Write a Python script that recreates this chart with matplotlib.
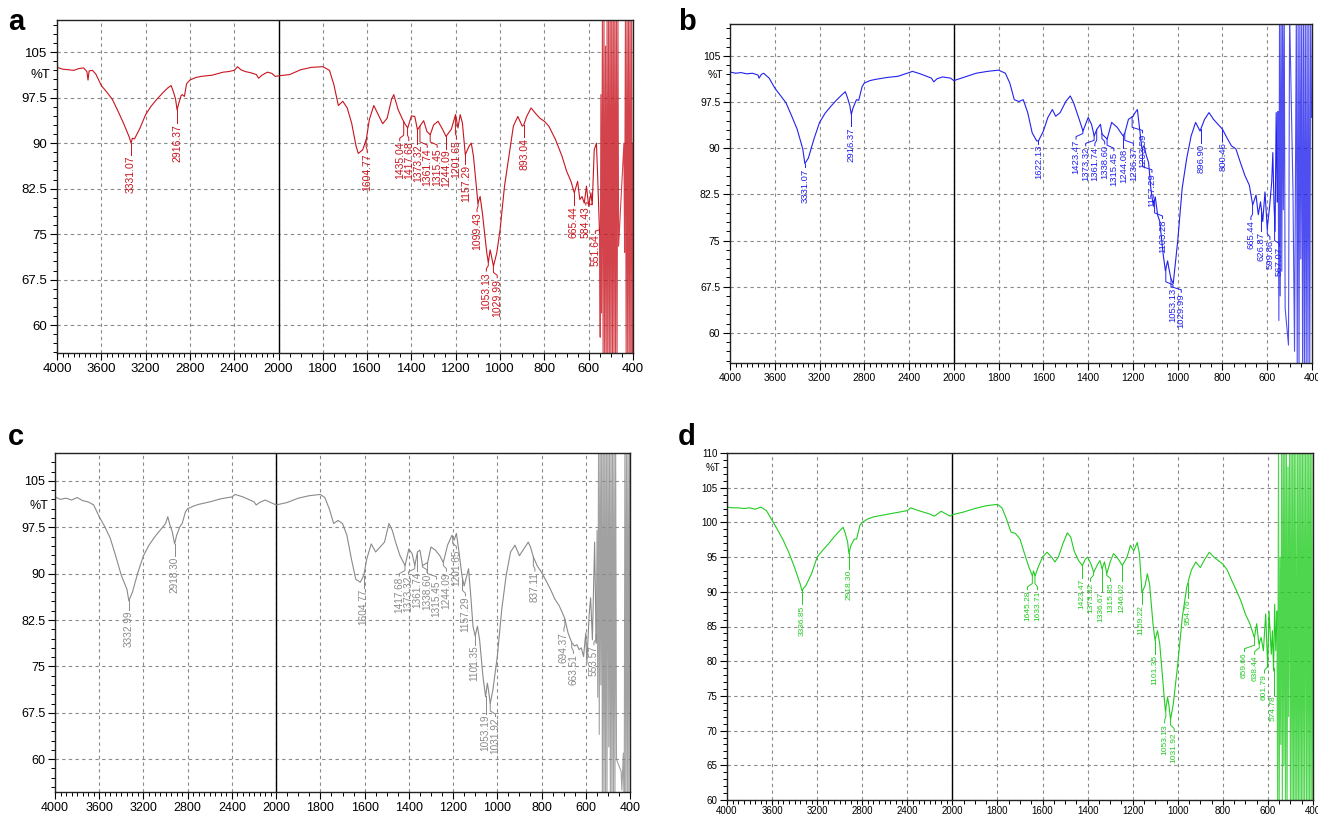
import numpy as np
import matplotlib
matplotlib.use('Agg')
import matplotlib.pyplot as plt
from matplotlib.ticker import FixedLocator
from matplotlib.transforms import blended_transform_factory

plt.rcParams['font.family'] = ['Liberation Sans', 'DejaVu Sans']

# ---- spectrum a ----
wn_a = [4000, 3950, 3900, 3850, 3800, 3760, 3730, 3720, 3710, 3680, 3650, 3600, 3550, 3500, 3450, 3400, 3350, 3331, 3320, 3300,
        3250, 3200, 3150, 3100, 3050, 3000, 2970, 2950, 2930, 2916, 2900, 2880, 2870, 2850, 2830, 2800, 2750, 2700, 2600, 2500,
        2450, 2400, 2370, 2340, 2300, 2250, 2200, 2180, 2150, 2100, 2060, 2030, 2000, 1950, 1900, 1850, 1800, 1770, 1750, 1730,
        1710, 1690, 1670, 1650, 1640, 1620, 1604, 1590, 1570, 1550, 1530, 1510, 1490, 1480, 1460, 1440, 1430, 1417, 1400, 1385,
        1373, 1360, 1345, 1330, 1315, 1300, 1280, 1260, 1244, 1220, 1201, 1190, 1180, 1170, 1157, 1140, 1130, 1120, 1100, 1090,
        1080, 1060, 1053, 1045, 1040, 1030, 1015, 1000, 980, 960, 940, 920, 900, 893, 880, 860, 840, 820, 800, 780,
        750, 720, 700, 680, 665, 650, 640, 630, 620, 610, 600, 590, 584, 575, 565, 560, 551]
t_a = [102.5, 102.2, 102.1, 102.0, 102.3, 102.4, 101.8, 100.4, 101.9, 102.0, 101.4, 99.5, 98.4, 97.2, 95.3, 93.3, 91.1, 90.0, 90.8, 90.7,
       92.5, 94.7, 96.1, 97.2, 98.2, 99.1, 99.5, 98.5, 97.3, 95.5, 96.6, 97.8, 98.0, 97.7, 99.8, 100.4, 100.8, 101.0, 101.2, 101.7,
       101.8, 102.0, 102.6, 102.1, 101.8, 101.6, 101.3, 100.7, 101.2, 101.7, 101.5, 101.0, 101.1, 101.3, 102.1, 102.5, 102.6, 102.0, 99.6, 96.2,
       96.9, 95.8, 93.3, 89.5, 88.3, 88.9, 90.6, 93.9, 96.2, 94.7, 93.2, 94.1, 97.2, 98.0, 95.5, 93.9, 93.2, 92.5, 94.5, 94.4,
       92.2, 92.9, 93.7, 91.9, 91.4, 93.0, 93.6, 92.3, 91.1, 92.3, 94.7, 92.5, 94.7, 93.3, 88.1, 89.5, 90.0, 87.8, 80.1, 81.2,
       78.5, 71.9, 70.3, 72.4, 71.6, 69.7, 71.9, 75.7, 82.9, 87.8, 92.8, 94.4, 92.8, 93.0, 94.4, 95.8, 94.9, 94.1, 93.6, 92.8,
       90.6, 87.8, 85.4, 83.7, 81.8, 83.7, 80.7, 81.2, 80.1, 82.9, 79.6, 81.8, 79.9, 88.9, 90.0, 85.0, 75.2]
tail_wn_a = [548, 545, 542, 538, 535, 531, 528, 524, 521, 517, 514, 510, 507, 503, 500, 496, 493, 489, 486, 482,
             479, 475, 472, 468, 465, 441, 438, 434, 431, 427, 424, 420, 417, 413, 410, 406, 403, 400]
tail_t_a = [58, 98, 62, 112, 54, 112, 54, 106, 54, 112, 54, 112, 54, 112, 54, 112, 54, 112, 54, 112,
            54, 112, 54, 112, 73, 90, 72, 112, 54, 112, 54, 112, 54, 112, 54, 112, 54, 90]
peaks_a = ['3331.07', '2916.37', '1604.77', '1435.04', '1417.68', '1373.32', '1361.74', '1315.45', '1244.09',
           '1201.65', '1157.29', '1099.43', '1053.13', '1029.99', '893.04', '665.44', '584.43', '551.64']
lab_x_a = [3331, 2916, 1600, 1453, 1412, 1370, 1329, 1284, 1242, 1197, 1155, 1104, 1062, 1013, 892, 667, 613, 570]
lab_top_a = [88.1, 93.3, 88.5, 90.4, 90.4, 89.9, 89.3, 89.3, 89.1, 90.7, 86.6, 78.7, 68.9, 67.8, 91.0, 79.8, 79.8, 75.1]

# ---- spectrum b ----
wn_b = [4000, 3950, 3900, 3850, 3800, 3750, 3740, 3720, 3700, 3650, 3600, 3550, 3500, 3450, 3400, 3350, 3331, 3300, 3250, 3200,
        3150, 3100, 3050, 3000, 2970, 2950, 2930, 2916, 2900, 2870, 2850, 2820, 2800, 2750, 2700, 2600, 2500, 2400, 2370, 2300,
        2200, 2180, 2150, 2100, 2030, 2000, 1950, 1900, 1850, 1800, 1770, 1750, 1730, 1710, 1690, 1670, 1650, 1630, 1622, 1600,
        1580, 1560, 1545, 1525, 1500, 1480, 1465, 1440, 1423, 1400, 1385, 1373, 1361, 1345, 1338, 1315, 1295, 1270, 1244, 1236,
        1220, 1200, 1190, 1180, 1170, 1160, 1150, 1140, 1130, 1120, 1110, 1100, 1090, 1080, 1065, 1055, 1045, 1040, 1030, 1020,
        1000, 980, 960, 940, 920, 900, 880, 860, 840, 820, 800, 780, 760, 740, 720, 700, 680, 665, 650, 640,
        630, 620, 610, 600, 590, 580, 575, 570, 565, 560, 555]
t_b = [102.4, 102.2, 102.3, 102.1, 102.2, 101.9, 101.4, 102.0, 102.2, 101.4, 99.8, 98.6, 97.4, 95.3, 93.1, 89.9, 87.5, 88.4, 91.5, 94.2,
       95.7, 96.8, 97.8, 98.7, 99.2, 98.2, 97.0, 95.5, 96.6, 97.9, 97.8, 100.0, 100.6, 101.0, 101.2, 101.5, 101.7, 102.3, 102.5, 102.1,
       101.4, 100.8, 101.3, 101.6, 101.4, 101.0, 101.6, 102.2, 102.5, 102.7, 102.2, 100.6, 97.9, 97.6, 97.9, 95.8, 92.5, 91.2, 91.2, 92.8,
       95.0, 96.3, 95.2, 95.8, 97.6, 98.5, 97.4, 94.7, 92.8, 95.0, 93.9, 92.0, 93.1, 93.9, 92.3, 91.5, 94.2, 93.4, 92.0, 92.5,
       94.7, 95.2, 95.8, 96.3, 93.1, 89.9, 90.4, 88.8, 87.7, 83.5, 80.8, 82.1, 79.2, 78.1, 72.8, 70.1, 71.7, 70.6, 68.8, 68.0,
       74.9, 83.5, 88.3, 92.0, 94.2, 92.8, 94.7, 95.8, 94.7, 93.9, 93.1, 91.7, 90.4, 89.9, 87.7, 85.6, 84.0, 80.8, 82.4, 79.2,
       81.3, 78.1, 82.9, 77.0, 80.3, 84.5, 89.3, 81.3, 76.5, 95.8, 81.3]
tail_wn_b = [552, 548, 545, 542, 538, 535, 531, 528, 524, 520, 505, 500, 485, 478, 470, 466,
             462, 458, 454, 450, 446, 442, 438, 434, 430, 426, 422, 418, 414, 410, 406, 402]
tail_t_b = [96, 62, 112, 66, 112, 70, 112, 80, 112, 64, 58, 112, 83, 57, 112, 54,
            112, 54, 112, 72, 112, 54, 112, 54, 112, 54, 112, 54, 112, 54, 112, 95]
peaks_b = ['3331.07', '2916.37', '1622.13', '1423.47', '1373.32', '1361.74', '1338.60', '1315.45', '1244.08', '1236.37',
           '1203.59', '1157.29', '1103.28', '1053.13', '1029.99', '896.90', '800.46', '665.44', '626.87', '599.86', '567.07']
lab_x_b = [3331, 2916, 1622, 1454, 1411, 1370, 1326, 1285, 1242, 1198, 1157, 1115, 1068, 1021, 984, 897, 799, 673, 630, 588, 545]
lab_top_b = [86.9, 93.6, 90.7, 91.5, 90.4, 90.4, 90.7, 89.6, 90.1, 90.4, 92.5, 86.1, 78.6, 67.4, 66.6, 90.9, 91.2, 78.4, 76.5, 75.2, 74.1]

# ---- spectrum c ----
wn_c = [4000, 3950, 3900, 3850, 3800, 3750, 3700, 3650, 3600, 3550, 3500, 3450, 3400, 3350, 3332, 3300, 3250, 3200, 3150, 3100,
        3050, 3000, 2980, 2960, 2940, 2918, 2900, 2870, 2850, 2820, 2800, 2750, 2700, 2600, 2500, 2400, 2370, 2300, 2200, 2180,
        2150, 2100, 2050, 2000, 1950, 1900, 1850, 1800, 1780, 1760, 1740, 1720, 1700, 1680, 1660, 1640, 1620, 1604, 1590, 1570,
        1550, 1530, 1510, 1490, 1475, 1460, 1440, 1417, 1400, 1385, 1373, 1361, 1350, 1338, 1315, 1300, 1280, 1260, 1244, 1225,
        1205, 1195, 1185, 1175, 1160, 1150, 1140, 1130, 1120, 1110, 1100, 1090, 1080, 1065, 1053, 1045, 1040, 1032, 1020, 1000,
        980, 960, 940, 920, 900, 880, 860, 850, 837, 820, 800, 780, 760, 740, 720, 700, 694, 680, 663, 650,
        640, 630, 620, 610, 600, 595, 585, 578, 570, 560, 553]
t_c = [102.4, 102.0, 102.2, 101.9, 102.3, 101.8, 101.6, 101.1, 99.2, 97.6, 95.7, 92.8, 89.7, 87.5, 85.6, 87.0, 90.2, 92.9, 94.6, 95.9,
       97.0, 98.1, 99.2, 97.8, 96.8, 94.8, 96.2, 97.6, 98.1, 100.0, 100.5, 100.9, 101.2, 101.6, 102.1, 102.4, 102.8, 102.4, 101.6, 101.1,
       101.5, 101.9, 101.5, 101.1, 101.5, 102.2, 102.6, 102.8, 102.3, 100.5, 98.1, 98.6, 98.1, 96.2, 92.4, 89.1, 88.6, 89.7, 92.4, 94.8,
       93.5, 94.3, 95.1, 98.1, 97.0, 95.1, 92.9, 91.3, 94.0, 93.2, 91.3, 93.5, 93.8, 91.3, 91.8, 94.3, 93.8, 92.9, 91.8, 94.6,
       96.2, 95.4, 96.5, 94.0, 89.7, 88.0, 89.4, 90.8, 86.4, 81.5, 79.9, 81.5, 79.3, 73.4, 70.1, 72.3, 71.2, 69.0, 71.2, 76.6,
       84.2, 89.7, 93.5, 94.6, 92.9, 94.0, 95.1, 94.3, 92.7, 91.3, 90.2, 88.9, 87.5, 85.9, 84.8, 83.2, 82.6, 80.4, 78.8, 78.3,
       78.5, 77.7, 78.0, 76.6, 80.4, 75.5, 83.2, 86.1, 79.3, 95.1, 78.8]
tail_wn_c = [549, 546, 542, 539, 535, 532, 528, 525, 521, 518, 514, 511, 507, 504, 500, 496, 493, 489, 486,
             482, 479, 475, 472, 468, 465, 461, 440, 437, 430, 426, 423, 419, 416, 412, 409, 405, 402]
tail_t_c = [97, 70, 112, 64, 112, 72, 112, 54, 112, 54, 112, 54, 112, 54, 112, 62, 112, 54, 112,
            54, 112, 54, 112, 54, 112, 60, 58, 55, 61, 54, 112, 54, 112, 54, 112, 54, 112]
peaks_c = ['3332.99', '2918.30', '1604.77', '1417.68', '1373.32', '1361.74', '1338.60', '1315.45', '1244.09',
           '1201.65', '1157.29', '1101.35', '1053.19', '1031.92', '837.11', '694.37', '663.51', '553.57']
lab_x_c = [3332, 2918, 1604, 1443, 1401, 1360, 1318, 1275, 1230, 1185, 1144, 1103, 1053, 1008, 830, 699, 656, 563]
lab_top_c = [84.2, 92.9, 87.7, 89.6, 89.9, 90.4, 90.2, 89.1, 90.4, 94.0, 86.4, 78.5, 67.3, 66.9, 90.4, 80.7, 77.1, 78.5]

# ---- spectrum d ----
wn_d = [4000, 3950, 3900, 3850, 3800, 3750, 3700, 3650, 3600, 3550, 3500, 3450, 3400, 3350, 3336, 3300, 3250, 3200, 3150, 3100,
        3050, 3000, 2970, 2950, 2930, 2918, 2900, 2870, 2850, 2820, 2800, 2750, 2700, 2600, 2500, 2400, 2370, 2300, 2200, 2160,
        2100, 2020, 2000, 1950, 1900, 1850, 1800, 1780, 1760, 1740, 1720, 1700, 1680, 1660, 1645, 1640, 1633, 1620, 1600, 1580,
        1560, 1545, 1530, 1510, 1490, 1475, 1460, 1440, 1423, 1410, 1400, 1385, 1373, 1355, 1345, 1336, 1325, 1315, 1300, 1285,
        1270, 1246, 1225, 1210, 1195, 1180, 1170, 1159, 1145, 1135, 1125, 1110, 1101, 1090, 1080, 1065, 1055, 1045, 1040, 1032,
        1020, 1000, 980, 960, 940, 920, 900, 880, 860, 840, 820, 800, 780, 760, 740, 720, 700, 680, 660, 650,
        640, 630, 620, 610, 601, 595, 585, 580, 575, 570, 565, 560]
t_d = [102.2, 102.1, 102.1, 102.0, 102.1, 101.9, 102.2, 101.7, 100.3, 98.9, 97.4, 95.6, 93.5, 91.1, 90.2, 90.9, 92.6, 95.0, 96.0, 96.9,
       97.9, 98.8, 99.3, 98.4, 97.2, 95.5, 96.7, 97.6, 97.6, 99.6, 100.0, 100.5, 100.8, 101.1, 101.4, 101.7, 102.1, 101.7, 101.2, 100.9,
       101.6, 100.9, 101.1, 101.5, 102.0, 102.4, 102.6, 102.1, 100.5, 98.6, 98.4, 97.6, 95.5, 93.5, 92.3, 93.0, 92.3, 93.5, 95.0, 95.7,
       95.0, 94.3, 95.0, 96.9, 98.5, 97.9, 95.9, 94.5, 93.8, 94.7, 95.0, 94.0, 92.8, 94.0, 94.5, 93.3, 94.3, 92.6, 94.3, 95.5,
       95.0, 93.8, 95.0, 96.7, 95.9, 97.1, 95.5, 89.9, 90.9, 92.6, 91.1, 85.4, 83.0, 84.4, 82.5, 76.7, 72.8, 74.8, 73.8, 71.6,
       73.8, 79.6, 86.3, 90.7, 93.1, 94.3, 93.5, 94.7, 95.7, 95.0, 94.5, 94.0, 93.1, 91.6, 90.2, 88.7, 86.8, 85.4, 83.4, 85.4,
       82.5, 83.4, 81.5, 86.8, 79.1, 87.2, 81.0, 84.4, 78.6, 88.2, 81.5, 87.2]
tail_wn_d = [557, 553, 550, 546, 543, 539, 536, 532, 529, 525, 522, 518, 515, 511, 508, 504, 500, 497, 493, 490, 486, 483, 479,
             476, 472, 468, 465, 461, 458, 454, 451, 447, 444, 440, 437, 433, 429, 426, 422, 419, 415, 412, 408, 405, 401]
tail_t_d = [58, 112, 58, 95, 68, 112, 58, 112, 65, 112, 58, 112, 58, 108, 72, 112, 58, 112, 58, 112, 58, 112, 58,
            112, 58, 112, 58, 112, 58, 112, 58, 112, 58, 112, 58, 112, 58, 112, 58, 112, 58, 112, 58, 112, 58]
peaks_d = ['3336.85', '2918.30', '1645.28', '1633.71', '1423.47', '1373.32', '1336.67', '1315.85', '1246.02',
           '1159.22', '1101.35', '1053.13', '1031.92', '954.76', '659.66', '638.44', '601.79', '574.78']
lab_x_d = [3336, 2918, 1667, 1622, 1425, 1387, 1340, 1298, 1246, 1162, 1102, 1058, 1016, 954, 704, 659, 615, 575]
lab_top_d = [88.2, 93.3, 90.3, 90.3, 92.0, 91.5, 90.1, 91.5, 91.5, 88.2, 81.0, 71.1, 69.9, 89.1, 81.4, 81.0, 78.3, 75.2]

x_major = [4000, 3600, 3200, 2800, 2400, 2000, 1800, 1600, 1400, 1200, 1000, 800, 600, 400]
y_major_abc = [60, 67.5, 75, 82.5, 90, 97.5, 105]
y_labels_abc = ['60', '67.5', '75', '82.5', '90', '97.5', '105']
y_major_d = [60, 65, 70, 75, 80, 85, 90, 95, 100, 105, 110]
y_labels_d = [str(v) for v in y_major_d]

W, H = 1318, 817
fig = plt.figure(figsize=(W / 100, H / 100), dpi=100)


def fwd(x):
    x = np.asarray(x, dtype=float)
    return np.where(x > 2000, 2000 + (x - 2000) / 2, x)


def inv(u):
    u = np.asarray(u, dtype=float)
    return np.where(u > 2000, 2000 + (u - 2000) * 2, u)


def panel(box, letter, lpos, wn, t, twn, tt, peaks, lx, ltop, color,
          ylim, yt, ylab, ymin_step, pct, tfs, afs, xtick_len=5, xpad=2):
    l, r, top, bot = box
    ax = fig.add_axes([l / W, 1 - bot / H, (r - l) / W, (bot - top) / H])
    ax.set_xscale('function', functions=(fwd, inv))
    ax.set_xlim(4000, 400)
    ax.set_ylim(*ylim)
    ax.set_xticks(x_major)
    ax.set_xticklabels([str(v) for v in x_major])
    ax.xaxis.set_minor_locator(FixedLocator(list(range(400, 4001, 50))))
    ax.set_yticks(yt)
    ax.set_yticklabels(ylab)
    ax.yaxis.set_minor_locator(FixedLocator(list(np.arange(yt[0] - 3 * ymin_step, ylim[1], ymin_step))))
    ax.tick_params(which='major', direction='out', length=5, width=0.8, labelsize=tfs, pad=2)
    ax.tick_params(axis='x', which='major', length=xtick_len, pad=xpad)
    ax.tick_params(which='minor', direction='out', length=3, width=0.7)
    ax.grid(True, which='major', linestyle=(0, (3, 3)), color='#8a8a8a', linewidth=0.8)
    ax.set_axisbelow(True)
    for s in ax.spines.values():
        s.set_linewidth(1.0)
        s.set_color('#222222')
    ax.axvline(2000, color='black', lw=1.0)

    ax.plot(wn, t, color=color, lw=0.8)
    ax.plot([wn[-1]] + twn, [t[-1]] + tt, color=color, lw=0.8, alpha=0.8)

    xs = np.array(wn[::-1], dtype=float)
    ys = np.array(t[::-1], dtype=float)
    for s, x, y in zip(peaks, lx, ltop):
        p = float(s)
        tp = float(np.interp(p, xs, ys))
        if abs(x - p) < 4:
            ax.plot([p, p], [tp, y], color=color, lw=0.7)
        else:
            e = min(tp - 0.2, y + 0.9)
            ax.plot([x, x, p, p], [y, y + 0.4, e, tp], color=color, lw=0.7)
        ax.text(x, y - 0.15, s, rotation=90, ha='center', va='top', fontsize=afs, color=color)

    tr = blended_transform_factory(ax.transAxes, ax.transData)
    ax.text(-0.012, pct, '%T', transform=tr, ha='right', va='center', fontsize=tfs)
    fig.text(lpos[0] / W, 1 - lpos[1] / H, letter, fontsize=21, fontweight='bold',
             ha='left', va='center')
    return ax


panel((57, 633, 20, 353), 'a', (8, 22), wn_a, t_a, tail_wn_a, tail_t_a, peaks_a, lab_x_a, lab_top_a,
      '#c8141e', (55.4, 110.3), y_major_abc, y_labels_abc, 1.5, 101.2, 9.5, 7.5)
panel((730, 1312, 24, 363), 'b', (678, 22), wn_b, t_b, tail_wn_b, tail_t_b, peaks_b, lab_x_b, lab_top_b,
      '#2222ee', (55.1, 110.2), y_major_abc, y_labels_abc, 1.5, 101.9, 7.5, 6.8)
panel((55, 630, 453, 792), 'c', (8, 437), wn_c, t_c, tail_wn_c, tail_t_c, peaks_c, lab_x_c, lab_top_c,
      '#8a8a8a', (54.7, 109.5), y_major_abc, y_labels_abc, 1.5, 101.0, 9.0, 7.2)
panel((727, 1313, 453, 800), 'd', (678, 437), wn_d, t_d, tail_wn_d, tail_t_d, peaks_d, lab_x_d, lab_top_d,
      '#22cc22', (60, 110), y_major_d, y_labels_d, 1.0, 107.8, 7.0, 6.0, xtick_len=3.5, xpad=0.5)

fig.savefig('out.png', dpi=100)
